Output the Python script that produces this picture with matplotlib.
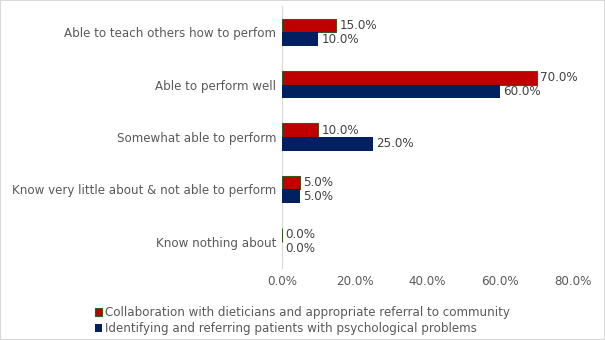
import matplotlib.pyplot as plt
import numpy as np
from matplotlib.patches import Rectangle

categories = ['Able to teach others how to perfom', 'Able to perform well',
              'Somewhat able to perform', 'Know very little about & not able to perform',
              'Know nothing about']
collab = [15.0, 70.0, 10.0, 5.0, 0.0]
psych = [10.0, 60.0, 25.0, 5.0, 0.0]
xticks = [0, 20, 40, 60, 80]

red = '#C00000'
blue = '#002060'
edge_green = '#385723'
txt = '#595959'
fs = 8.6

fig = plt.figure(figsize=(6.05, 3.4), dpi=100)
ax = fig.add_axes([0.466, 0.212, 0.481, 0.770])

y = np.arange(len(categories))
h = 0.26
b1 = ax.barh(y - h / 2, collab, height=h, color=red, edgecolor=edge_green, linewidth=0.8,
             zorder=3, label='Collaboration with dieticians and appropriate referral to community')
b2 = ax.barh(y + h / 2, psych, height=h, color=blue, linewidth=0, zorder=3,
             label='Identifying and referring patients with psychological problems')

for bars, vals in ((b1, collab), (b2, psych)):
    for bar, v in zip(bars, vals):
        ax.text(v + 0.9, bar.get_y() + bar.get_height() / 2, f'{v:.1f}%',
                va='center', ha='left', fontsize=fs, color='#404040')

ax.set_ylim(len(categories) - 0.5, -0.5)
ax.set_xlim(0, 80)
ax.set_yticks(y)
ax.set_yticklabels(categories, fontsize=fs, color=txt)
ax.set_xticks(xticks)
ax.set_xticklabels([f'{t:.1f}%' for t in xticks], fontsize=fs, color=txt)
ax.tick_params(length=0, pad=4)
ax.tick_params(axis='x', pad=5)
for s in ['top', 'right', 'bottom']:
    ax.spines[s].set_visible(False)
ax.spines['left'].set_color('#D9D9D9')

leg = fig.legend(loc='lower center', bbox_to_anchor=(0.5, -0.018), ncol=1, frameon=False,
                 fontsize=fs, handlelength=0.6, handleheight=0.6, handletextpad=0.3,
                 labelspacing=0.25)
for t in leg.get_texts():
    t.set_color(txt)

fig.patches.append(Rectangle((0, 0), 1, 1, transform=fig.transFigure, fill=False,
                             edgecolor='#D9D9D9', linewidth=1.5))

fig.savefig('out.png', dpi=100)
